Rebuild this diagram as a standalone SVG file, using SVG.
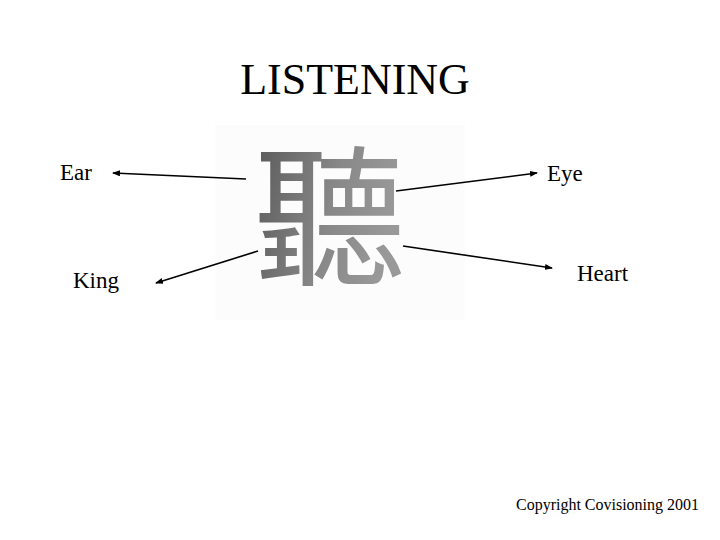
<svg xmlns="http://www.w3.org/2000/svg" width="720" height="540" viewBox="0 0 720 540">
<style>
.t{font-family:"Liberation Serif","Times New Roman",serif;fill:#000}
.c line{stroke:#000;stroke-width:1.6;marker-end:url(#ah)}
</style>
<defs>
<marker id="ah" markerWidth="8" markerHeight="6" refX="7" refY="3" orient="auto" markerUnits="userSpaceOnUse">
<path d="M0,0 L8,3 L0,6 Z" fill="#000"/>
</marker>
<linearGradient id="g" x1="0" y1="0" x2="1" y2="0.3">
<stop offset="0" stop-color="#555"/>
<stop offset="0.6" stop-color="#888"/>
<stop offset="1" stop-color="#999"/>
</linearGradient>
</defs>
<rect width="720" height="540" fill="#fff"/>
<g id="title"><text class="t" x="355" y="94" font-size="44" text-anchor="middle">LISTENING</text></g>
<g id="char">
<rect x="215" y="125" width="250" height="195" fill="#fcfcfc"/>
<text x="330" y="274" font-size="152" text-anchor="middle" fill="url(#g)" font-family="Noto Sans CJK TC,Noto Sans CJK SC,sans-serif">聽</text>
</g>
<g id="ear"><text class="t" x="60" y="180" font-size="23">Ear</text></g>
<g id="king"><text class="t" x="73" y="288" font-size="23">King</text></g>
<g id="eye"><text class="t" x="547" y="181" font-size="23">Eye</text></g>
<g id="heart"><text class="t" x="577" y="281" font-size="23">Heart</text></g>
<g id="copyright"><text class="t" x="516" y="510" font-size="16" textLength="183">Copyright Covisioning 2001</text></g>
<g class="c" id="connectors">
<line x1="246" y1="179" x2="113" y2="173"/>
<line x1="258" y1="251" x2="156" y2="283"/>
<line x1="396" y1="191" x2="537" y2="173"/>
<line x1="403" y1="246" x2="552" y2="268"/>
</g>
</svg>
